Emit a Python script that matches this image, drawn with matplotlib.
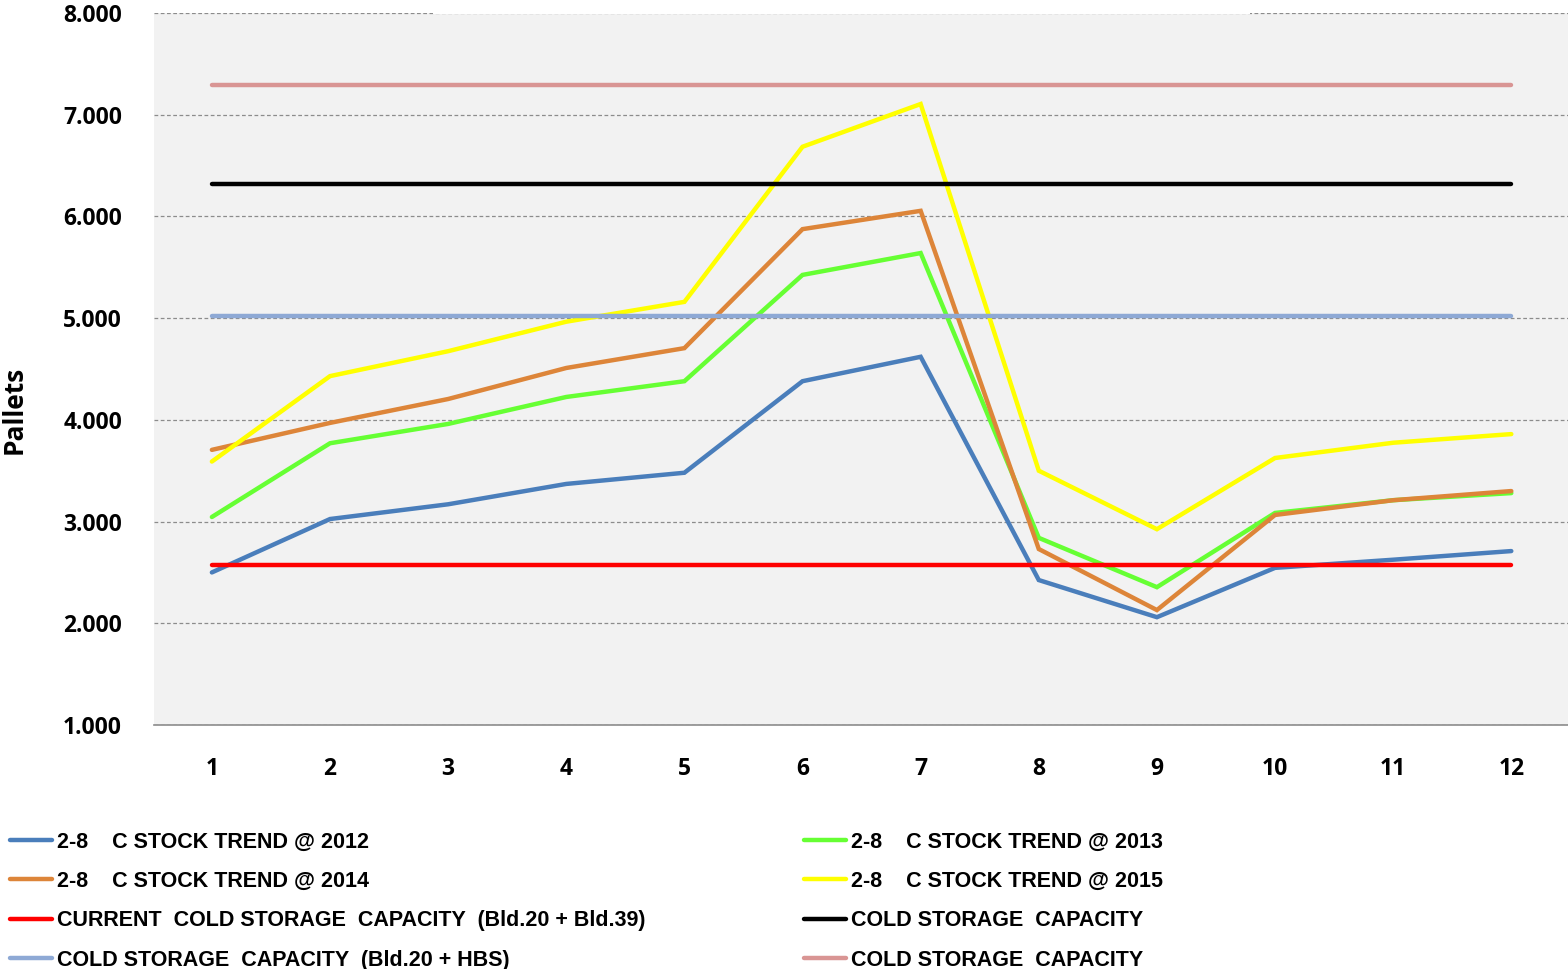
import matplotlib
matplotlib.use("Agg")
import matplotlib.pyplot as plt
from matplotlib.patches import Rectangle
from matplotlib.ticker import FuncFormatter

W, H = 1568, 969

months = list(range(1, 13))
stock_2012 = [2500, 3025, 3170, 3370, 3480, 4380, 4620, 2425, 2060, 2545, 2625, 2710]
stock_2013 = [3045, 3770, 3960, 4225, 4380, 5425, 5640, 2840, 2355, 3085, 3210, 3280]
stock_2014 = [3705, 3970, 4205, 4510, 4705, 5875, 6055, 2730, 2130, 3065, 3210, 3300]
stock_2015 = [3590, 4430, 4675, 4965, 5160, 6685, 7105, 3500, 2925, 3625, 3775, 3860]
cap_current = 2575
cap_black = 6320
cap_hbs = 5025
cap_pink = 7290

labels = ["2-8    C STOCK TREND @ 2012", "2-8    C STOCK TREND @ 2013",
          "2-8    C STOCK TREND @ 2014", "2-8    C STOCK TREND @ 2015",
          "CURRENT  COLD STORAGE  CAPACITY  (Bld.20 + Bld.39)",
          "COLD STORAGE  CAPACITY",
          "COLD STORAGE  CAPACITY  (Bld.20 + HBS)",
          "COLD STORAGE  CAPACITY"]
colors = ["#4A7EBB", "#66FF33", "#DD8539", "#FFFF00",
          "#FF0000", "#000000", "#8EA9D5", "#D99594"]

fig = plt.figure(figsize=(W / 100, H / 100), dpi=100)
ax = fig.add_axes([154 / W, (H - 725) / H, (W - 154) / W, (725 - 13) / H])
ax.set_facecolor("#F2F2F2")

series = [stock_2012, stock_2013, stock_2014, stock_2015,
          [cap_current] * 12, [cap_black] * 12, [cap_hbs] * 12, [cap_pink] * 12]
handles = []
for vals, c, lab in zip(series, colors, labels):
    ln, = ax.plot(months, vals, color=c, lw=3.2, solid_capstyle="round",
                  solid_joinstyle="miter", label=lab, zorder=3)
    handles.append(ln)

ax.set_xlim(0.51, 12.48)
ax.set_ylim(1000, 8000)
ax.set_yticks(range(1000, 9000, 1000))
ax.set_xticks(months)
ax.yaxis.set_major_formatter(FuncFormatter(lambda v, p: f"{int(v):,}".replace(",", ".")))
ax.grid(axis="y", color="#8C8C8C", lw=0.9, linestyle=(0, (3, 2)), zorder=1)
for s in ["left", "right", "top"]:
    ax.spines[s].set_visible(False)
ax.spines["bottom"].set_color("#8C8C8C")
ax.spines["bottom"].set_linewidth(1.2)
ax.tick_params(length=0)
ax.tick_params(axis="y", pad=23)
ax.tick_params(axis="x", pad=23)
for t in ax.get_xticklabels() + ax.get_yticklabels():
    t.set_fontsize(16.5)
    t.set_fontweight("bold")
    t.set_family(["Open Sans", "DejaVu Sans"])

fig.text(14 / W, (H - 410) / H, "Pallets", rotation=90, ha="center", va="center",
         fontsize=19, fontweight="bold", family=["Open Sans", "DejaVu Sans"])

# white box hiding part of the top gridline
fig.patches.append(Rectangle((433 / W, (H - 14) / H), 817 / W, 14 / H,
                             transform=fig.transFigure, facecolor="white",
                             edgecolor="none", zorder=10))

leg_font = {"family": ["Liberation Sans"], "weight": "bold", "size": 15.5}
order_left = [0, 2, 4, 6]
order_right = [1, 3, 5, 7]
for order, x0 in [(order_left, 4), (order_right, 798)]:
    leg = fig.legend([handles[i] for i in order], [labels[i] for i in order],
                     loc="upper left", bbox_to_anchor=(x0 / W, (H - 825) / H),
                     frameon=False, prop=leg_font, handlelength=1.95,
                     handletextpad=0.2, labelspacing=0.86, borderaxespad=0,
                     borderpad=0.3)

fig.savefig("out.png", dpi=100)
